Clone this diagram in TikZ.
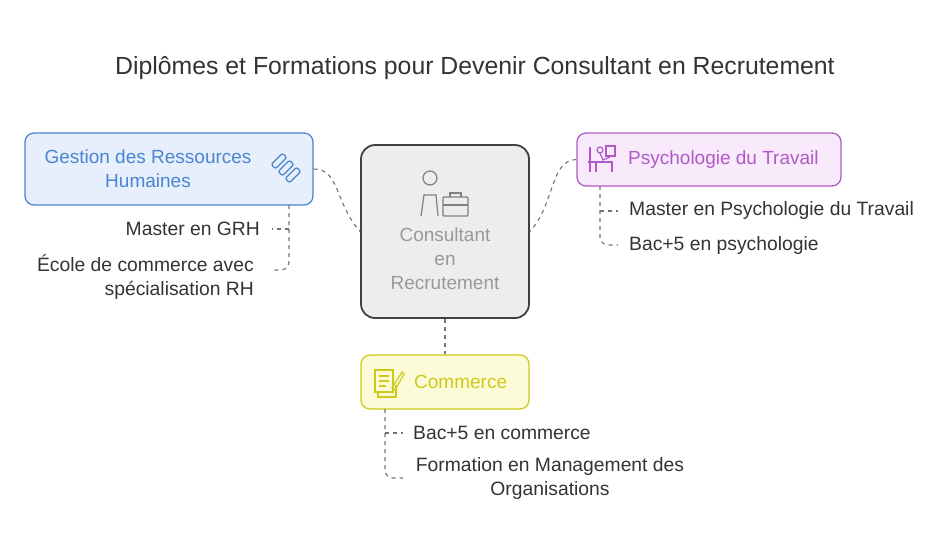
\documentclass[tikz,border=0pt]{standalone}
\usepackage{fontspec}
\setmainfont{Liberation Sans}
\definecolor{bl}{HTML}{4A86D0}
\definecolor{blf}{HTML}{E6EFFB}
\definecolor{pu}{HTML}{B05AC8}
\definecolor{puf}{HTML}{F8EAFA}
\definecolor{ye}{HTML}{CFC91A}
\definecolor{yef}{HTML}{FBFBD8}
\begin{document}
\begin{tikzpicture}[x=1pt,y=-1pt,
  conn/.style={draw=black!55,line width=1.1pt,dash pattern=on 4pt off 4pt},
  lbl/.style={font=\fontsize{19.3}{24}\selectfont,text=black!80,inner sep=0},
  box/.style={rounded corners=9pt,line width=1.3pt}]
\useasboundingbox (0,0) rectangle (950,555);
\node[font=\fontsize{24.8}{28}\selectfont,text=black!80] (title) at (475,68) {Diplômes et Formations pour Devenir Consultant en Recrutement};
% boxes
\node[box,draw=black!75,fill=black!7,minimum width=168pt,minimum height=173pt,line width=1.8pt,rounded corners=14pt] (c) at (445,231.5) {};
\node[text=black!40,font=\fontsize{19}{24}\selectfont,align=center] (ct) at (445,259) {Consultant\\en\\Recrutement};
\node[box,draw=bl,fill=blf,minimum width=288pt,minimum height=72pt] (g) at (169,169) {};
\node[text=bl,font=\fontsize{19}{24}\selectfont,align=center] (gt) at (148,169) {Gestion des Ressources\\Humaines};
\node[box,draw=pu,fill=puf,minimum width=264pt,minimum height=53pt] (p) at (709,159.5) {};
\node[text=pu,font=\fontsize{19}{22}\selectfont,anchor=west,inner sep=0] (pt) at (628,160) {Psychologie du Travail};
\node[box,draw=ye,fill=yef,minimum width=168pt,minimum height=54pt] (y) at (445,382) {};
\node[text=ye,font=\fontsize{19}{22}\selectfont,anchor=west,inner sep=0] (yt) at (414,382) {Commerce};
% connectors
\draw[conn] (g.east) .. controls (340,169) and (335,204) .. (c.west);
\draw[conn] (p.west) .. controls (550,160) and (555,204) .. (c.east);
\draw[conn] (c.south) -- (y.north);
% sub items blue
\node[lbl,anchor=east] (g1) at (260,229) {Master en GRH};
\node[lbl,anchor=east,align=right] (g2) at (254,277) {École de commerce avec\\spécialisation RH};
\coordinate (gv) at (289,205);
\draw[conn] (gv) -- (289,262) arc (0:90:8) -- (272,270);
\draw[conn] (289,229) -- (272,229);
% purple
\node[lbl,anchor=west] (p1) at (629,211) {Master en Psychologie du Travail};
\node[lbl,anchor=west] (p2) at (629,246) {Bac+5 en psychologie};
\draw[conn] (600,186) -- (600,237) arc (180:90:8) -- (618,245);
\draw[conn] (600,211) -- (618,211);
% yellow
\node[lbl,anchor=west] (y1) at (413,433) {Bac+5 en commerce};
\node[lbl,align=center] (y2) at (550,479) {Formation en Management des\\Organisations};
\draw[conn] (385,409) -- (385,470) arc (180:90:8) -- (403,478);
\draw[conn] (385,433) -- (403,433);
% icons
\begin{scope}[draw=bl,line width=1.2pt,rounded corners=2pt]
\foreach \d in {-7,0,7} \draw[rotate around={45:(286+\d,168+\d)}] (278+\d,165+\d) rectangle (294+\d,171+\d);
\end{scope}
\begin{scope}[draw=black!50,line width=1.2pt]
\draw (430,178) circle (7);
\draw (421,216) -- (424,195) -- (436,195) -- (438,216);
\draw[rounded corners=1pt] (443,197) rectangle (468,216); \draw (450,197) -- (450,193) -- (461,193) -- (461,197); \draw (443,205) -- (468,205);
\end{scope}
\begin{scope}[draw=pu,line width=1.2pt]
\draw (590,147) -- (590,172); \draw (588,162) -- (612,162) -- (612,172); \draw (596,162) -- (596,172);
\draw (600,150) circle (3); \draw (600,153) -- (603,160) -- (610,157); \draw (606,146) rectangle (615,156);
\end{scope}
\begin{scope}[draw=ye,line width=1.2pt]
\draw (375,370) rectangle (393,392); \draw (379,376) -- (389,376); \draw (379,381) -- (389,381); \draw (379,386) -- (386,386);
\draw (378,392) -- (378,397) -- (396,397) -- (396,385); \draw (392,388) -- (402,372) -- (404,374) -- (395,390) -- cycle;
\end{scope}
\end{tikzpicture}
\end{document}
